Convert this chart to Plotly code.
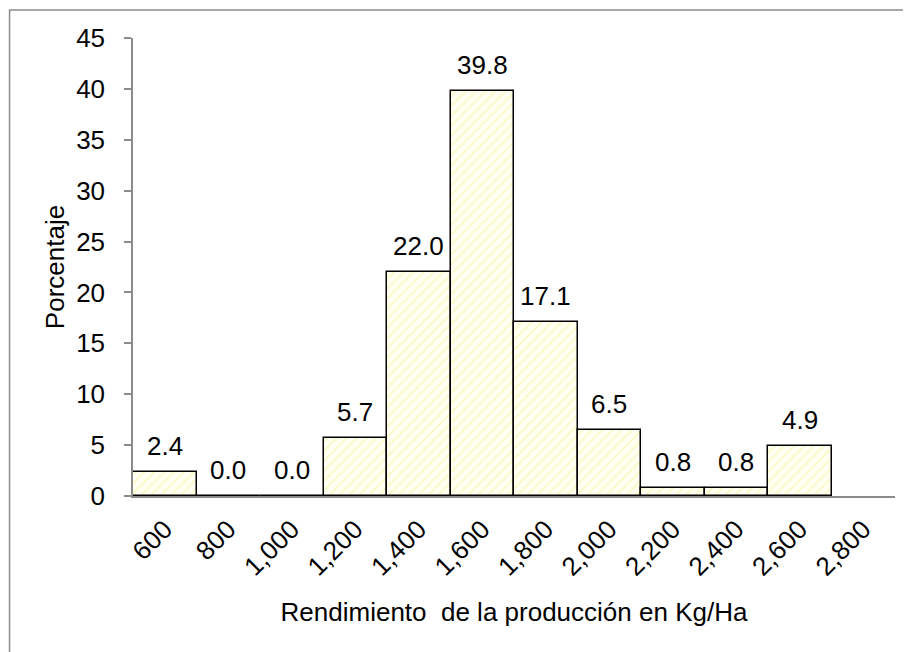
import plotly.graph_objects as go

# Rendimiento de la producción (Kg/Ha) — porcentaje por clase
categorias = ['600', '800', '1,000', '1,200', '1,400', '1,600', '1,800',
              '2,000', '2,200', '2,400', '2,600', '2,800']
porcentaje = [2.4, 0.0, 0.0, 5.7, 22.0, 39.8, 17.1, 6.5, 0.8, 0.8, 4.9]

FONT = 'Liberation Sans, Arial, sans-serif'
GRIS = '#8c8c8c'

fig = go.Figure()
fig.add_trace(go.Bar(
    x=categorias[:len(porcentaje)], y=porcentaje,
    marker=dict(color='#fffff2', line=dict(color='black', width=1.5),
                pattern=dict(shape='/', fgcolor='#f5f29a', bgcolor='#fffff2',
                             size=7, solidity=0.25)),
    hoverinfo='x+y', showlegend=False,
))

# etiquetas de datos sobre cada barra (x por índice de categoría)
for i, v in enumerate(porcentaje):
    fig.add_annotation(x=i, y=v, text=f'{v:.1f}', showarrow=False,
                       yanchor='bottom', yshift=9,
                       font=dict(size=26, color='black', family=FONT))

# marco del área del gráfico
fig.add_shape(type='rect', xref='paper', yref='paper',
              x0=-0.162, x1=1.2, y0=-0.6, y1=1.061,
              line=dict(color=GRIS, width=1.5), layer='below')

# la página deja 8 px de margen; se descuentan del tamaño
fig.update_layout(
    width=903, height=644,
    margin=dict(l=125, r=16, t=30, b=156),
    paper_bgcolor='white', plot_bgcolor='white',
    bargap=0,
    font=dict(family=FONT, size=26, color='black'),
    xaxis=dict(type='category', categoryorder='array', categoryarray=categorias,
               range=[-0.5, len(categorias) - 0.5],
               showline=True, linecolor=GRIS, linewidth=1.5,
               ticks='', tickangle=-45, showgrid=False,
               tickfont=dict(size=26), ticklabelstandoff=6,
               title=dict(text='Rendimiento  de la producción en Kg/Ha',
                          font=dict(size=26), standoff=22)),
    yaxis=dict(range=[0, 45], dtick=5, showline=True, linecolor=GRIS,
               linewidth=1.5, ticks='outside', ticklen=7, tickcolor=GRIS,
               tickwidth=1.5, showgrid=False, zeroline=False,
               tickfont=dict(size=26), ticklabelstandoff=14,
               title=dict(text='Porcentaje', font=dict(size=26), standoff=4)),
)

fig.write_html('out.html')
